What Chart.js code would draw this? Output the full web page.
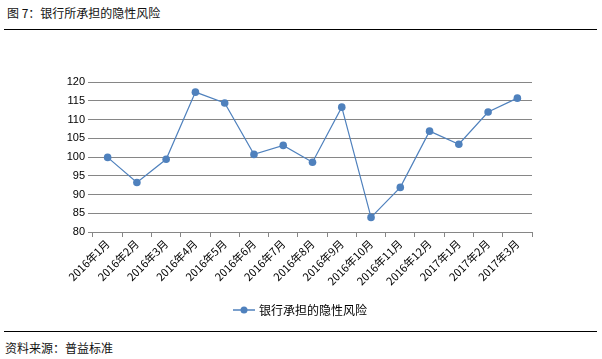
<!DOCTYPE html>
<html>
<head>
<meta charset="utf-8">
<script src="https://cdn.jsdelivr.net/npm/chart.js@4/dist/chart.umd.min.js"></script>
<style>
  html, body { margin:0; padding:0; background:#fff; }
  body { width:602px; height:359px; position:relative; overflow:hidden; font-family:"Noto Sans CJK SC", sans-serif; }
  .title { position:absolute; left:7px; top:4px; font-size:12px; color:#111; }
  .rule { position:absolute; left:4px; width:593px; height:1px; background:#000; }
  .src { position:absolute; left:5px; top:339px; font-size:12px; color:#111; }
  #wrap { position:absolute; left:0; top:30px; width:602px; height:298px; }
</style>
</head>
<body>
<div class="title">图 7：银行所承担的隐性风险</div>
<div class="rule" style="top:29px"></div>
<div id="wrap"><canvas id="chartCanvas"></canvas></div>
<div class="rule" style="top:331px"></div>
<div class="src">资料来源：普益标准</div>
<script>
// data
const months = ['2016年1月','2016年2月','2016年3月','2016年4月','2016年5月','2016年6月','2016年7月','2016年8月','2016年9月','2016年10月','2016年11月','2016年12月','2017年1月','2017年2月','2017年3月'];
const riskValues = [99.9, 93.2, 99.4, 117.3, 114.4, 100.7, 103.1, 98.6, 113.3, 83.9, 91.9, 106.9, 103.4, 112.0, 115.7];
const seriesName = '银行承担的隐性风险';
const yMin = 80, yMax = 120, yStep = 5;

const blue = '#4F81BD';
const gridGrey = '#868686';

// legend marker: short line with a dot
const mark = document.createElement('canvas');
mark.width = 22; mark.height = 10;
(function(){
  const c = mark.getContext('2d');
  c.strokeStyle = blue; c.lineWidth = 1.5;
  c.beginPath(); c.moveTo(0,5); c.lineTo(22,5); c.stroke();
  c.fillStyle = blue;
  c.beginPath(); c.arc(11,5,3.5,0,Math.PI*2); c.fill();
})();

// legend spans the whole width, not just the padded box
const legendWide = {
  id: 'legendWide',
  afterLayout(chart){
    const lg = chart.legend;
    if(lg){ lg.left = 0; lg.right = chart.width; lg.width = chart.width; }
  }
};

new Chart(document.getElementById('chartCanvas'), {
  type: 'line',
  data: {
    labels: months,
    datasets: [{
      label: seriesName,
      data: riskValues,
      borderColor: blue,
      backgroundColor: blue,
      borderWidth: 1.2,
      pointRadius: 3.8,
      pointBackgroundColor: blue,
      pointBorderWidth: 0,
      tension: 0
    }]
  },
  plugins: [legendWide],
  options: {
    responsive: true,
    maintainAspectRatio: false,
    animation: false,
    layout: { padding: { top: 52, right: 70, left: 0, bottom: 2 } },
    plugins: {
      tooltip: { enabled: false },
      legend: {
        position: 'bottom',
        labels: {
          usePointStyle: true,
          pointStyleWidth: 18,
          padding: 10,
          color: '#000',
          font: { size: 12, family: '"Noto Sans CJK SC", sans-serif' },
          generateLabels: chart => [{
            text: seriesName, pointStyle: mark, fillStyle: blue, strokeStyle: blue,
            lineWidth: 0, datasetIndex: 0, hidden: false
          }]
        }
      }
    },
    scales: {
      x: {
        offset: true,
        grid: { offset: true, drawOnChartArea: false, drawTicks: true, tickLength: 5, color: gridGrey },
        border: { display: true, color: gridGrey },
        ticks: {
          minRotation: 45, maxRotation: 45, autoSkip: false, padding: 0,
          color: '#000', font: { size: 11, family: '"Noto Sans CJK SC", sans-serif' }
        },
        afterFit: s => { s.height = 62; }
      },
      y: {
        min: yMin, max: yMax,
        grid: { color: gridGrey, tickLength: 5 },
        border: { display: false },
        ticks: {
          stepSize: yStep, padding: 3,
          color: '#000', font: { size: 11, family: '"Liberation Sans", sans-serif' }
        },
        afterFit: s => { s.width = 93; }
      }
    }
  }
});
</script>
</body>
</html>
